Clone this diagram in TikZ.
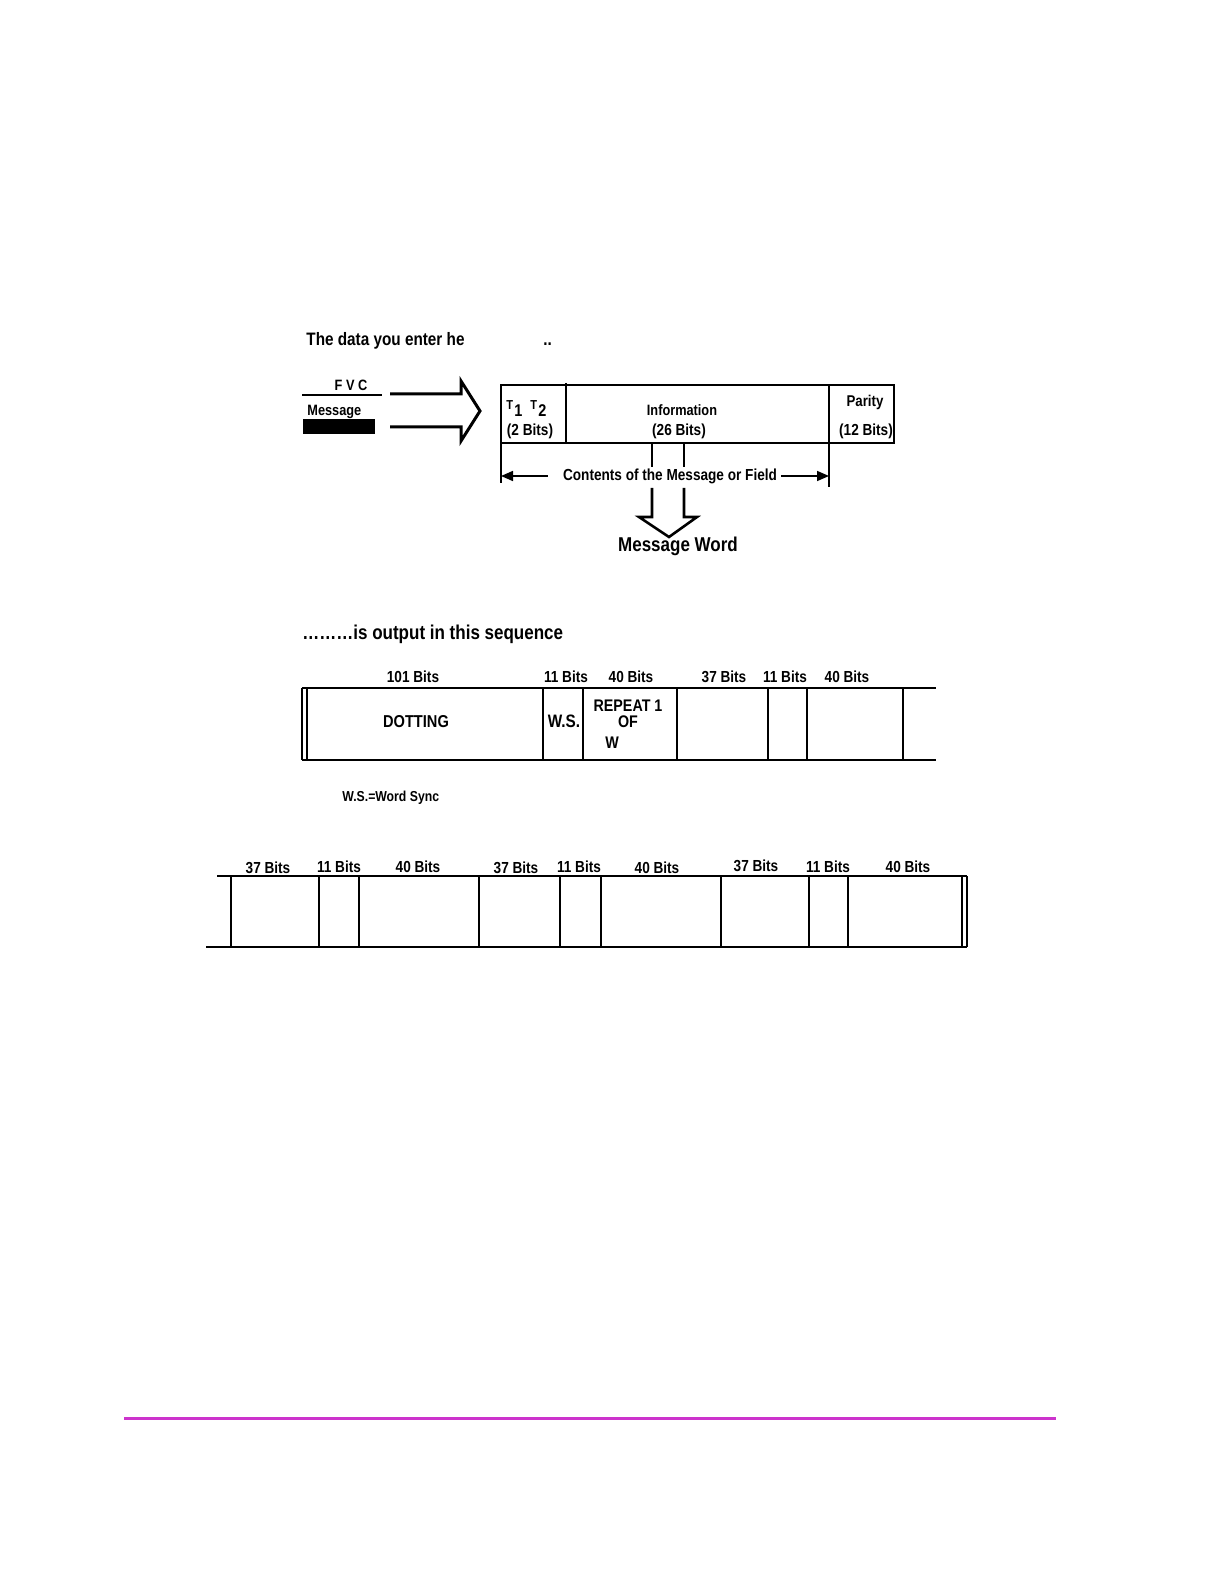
\documentclass[tikz,border=0pt]{standalone}
\usepackage{fontspec}
\setmainfont{Liberation Sans}[FakeStretch=0.85]
\usetikzlibrary{arrows.meta}
\definecolor{pagerule}{RGB}{204,51,204}
\newcommand{\fs}[1]{\bfseries\fontsize{#1}{#1}\selectfont}
\newcommand{\smallT}{\raisebox{3.5pt}{\fontsize{6.5}{6.5}\selectfont T}\hspace{0.6pt}}

\begin{document}
\begin{tikzpicture}[x=0.5pt, y=-0.5pt]
        \tikzstyle{frame}=[line width=0.8pt]
        \tikzstyle{fat}=[line width=1.5pt, line join=miter]
        \tikzstyle{txt}=[inner sep=0pt, anchor=base]
        \tikzstyle{bits}=[txt, font=\fs{8}]
        \useasboundingbox (0,0) rectangle (1222,1582);

        % Heading 1
        \node[txt, anchor=base west, font=\fs{9}] (head1) at (306,346) {The data you enter he};
        \node[txt, anchor=base west, font=\fs{9}] (dots1) at (543,346) {..};

        % FVC message input
        \node[txt, font=\fs{7.5}] (fvc) at (351,391) {F V C};
        \draw[frame] (302,395) -- (382,395);
        \node[txt, anchor=base west, font=\fs{7.5}] (msg) at (307,416) {Message};
        \fill (303,419) rectangle (375,434);
        \draw[fat] (390,394) -- (461,394) -- (461,381) -- (480,411) -- (461,441) -- (461,427) -- (390,427);

        % Message word block
        \draw[frame] (501,385) rectangle (894,443);
        \draw[frame] (566,383) -- (566,443);
        \draw[frame] (829,385) -- (829,487);
        \draw[frame] (501,443) -- (501,483);
        \node[txt, anchor=base west, font=\fs{8.5}] (t12) at (506,417) {\smallT 1\hspace{4pt}\smallT 2};
        \node[bits] (t12bits) at (530,436) {(2 Bits)};
        \node[txt, font=\fs{7.5}] (info) at (682,416) {Information};
        \node[bits] (infobits) at (679,436) {(26 Bits)};
        \node[txt, font=\fs{7.8}] (parity) at (865,407) {Parity};
        \node[bits] (paritybits) at (866,436) {(12 Bits)};

        % Contents arrow
        \coordinate (cl) at (501,476);
        \coordinate (cr) at (829,476);
        \node[inner sep=0pt, font=\fs{8}] (contents) at (670,476) {Contents of the Message or Field};
        \draw[frame, -{Triangle[length=6pt, width=5pt]}] ([xshift=-7.5pt]contents.west) -- (cl);
        \draw[frame, -{Triangle[length=6pt, width=5pt]}] ([xshift=2pt]contents.east) -- (cr);

        % Down arrow to message word
        \draw[line width=1.3pt] (652,443) -- (652,467) (684,443) -- (684,467);
        \draw[line width=1.3pt, line join=miter] (652,488) -- (652,517) -- (639,517) -- (669,537) -- (697,517) -- (684,517) -- (684,488);
        \node[txt, font=\fs{10}] (mword) at (678,552) {Message Word};

        % Heading 2
        \node[txt, anchor=base west, font=\fs{10}] (head2) at (302,639) {………is output in this sequence};

        % Sequence, first row
        \draw[frame] (302,688) -- (936,688);
        \draw[frame] (302,760) -- (936,760);
        \foreach \x in {302,307,543,583,677,768,807,903}
            \draw[frame] (\x,688) -- (\x,760);
        \foreach \x/\t [count=\i] in {413/101 Bits, 566/11 Bits, 631/40 Bits, 724/37 Bits, 785/11 Bits, 847/40 Bits}
            \node[bits] (ra-\i) at (\x,682) {\t};
        \node[txt, font=\fs{8.6}] (dotting) at (416,727) {DOTTING};
        \node[txt, font=\fs{9}] (ws) at (564,727) {W.S.};
        \node[txt, font=\fs{8.4}] (rep) at (628,711) {REPEAT 1};
        \node[txt, font=\fs{8.4}] (of) at (628,727) {OF};
        \node[txt, font=\fs{8.4}] (w) at (612,748) {W};
        \node[txt, anchor=base west, font=\fs{7.2}] (wsnote) at (342,801) {W.S.=Word Sync};

        % Sequence, second row
        \draw[frame] (217,876) -- (967,876);
        \draw[frame] (206,947) -- (967,947);
        \foreach \x in {231,319,359,479,560,601,721,809,848,962,967}
            \draw[frame] (\x,876) -- (\x,947);
        \foreach \x/\y/\t [count=\i] in {268/873/37 Bits, 339/872/11 Bits, 418/872/40 Bits, 516/873/37 Bits, 579/872/11 Bits,
                                        657/873/40 Bits, 756/871/37 Bits, 828/872/11 Bits, 908/872/40 Bits}
            \node[bits] (rb-\i) at (\x,\y) {\t};

        % Page rule
        \draw[line width=1.5pt, pagerule] (124,1418) -- (1056,1418);
    \end{tikzpicture}
\end{document}
